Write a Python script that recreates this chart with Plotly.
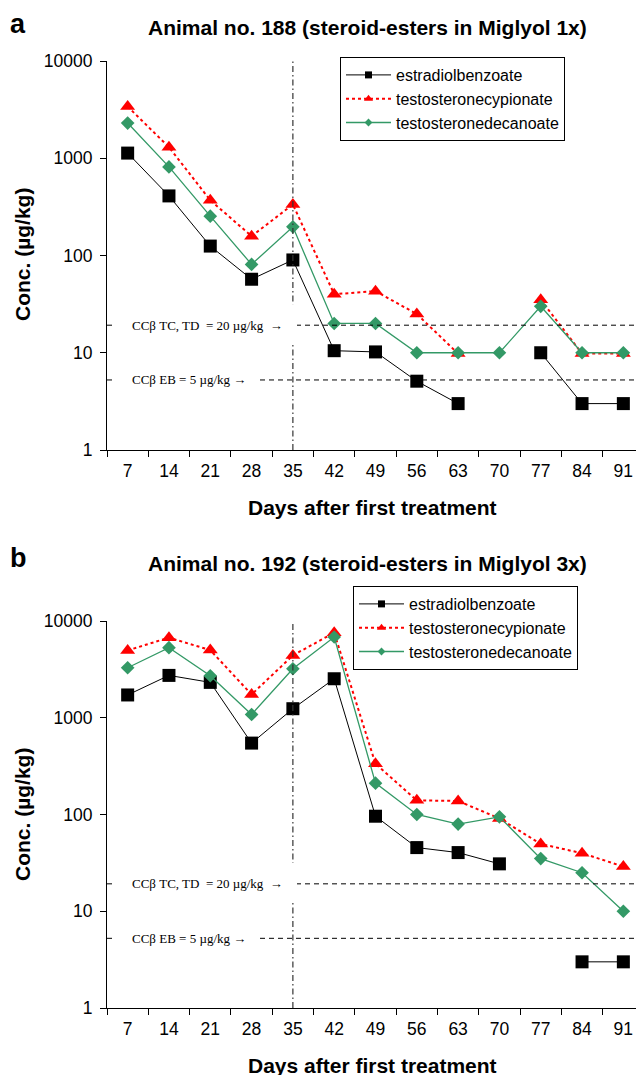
import math
import plotly.graph_objects as go

# ---------------- data ----------------
days = ["7", "14", "21", "28", "35", "42", "49", "56", "63", "70", "77", "84", "91"]
series_names = ["estradiolbenzoate", "testosteronecypionate", "testosteronedecanoate"]

a_eb = [1130, 410, 125, 57, 90, 10.5, 10.2, 5.1, 3, None, 10, 3, 3]
a_tc = [3400, 1300, 370, 158, 335, 40, 43, 25, 9.8, None, 35, 9.8, 9.8]
a_td = [2300, 815, 254, 81, 197, 20, 20, 10, 10, 10, 30, 10, 10]

b_eb = [1720, 2740, 2320, 547, 1240, 2530, 96, 45.5, 40.4, 30.9, None, 3, 3]
b_tc = [4970, 6730, 5000, 1740, 4410, 7570, 334, 140, 138, 91, 49.6, 39.8, 29]
b_td = [3290, 5300, 2720, 1080, 3210, 6830, 211, 100, 79.6, 94.6, 35, 25, 10]

y_tickvals = [1, 10, 100, 1000, 10000]
y_ticktext = ["1", "10", "100", "1000", "10000"]

titles = ["Animal no. 188 (steroid-esters in Miglyol 1x)",
          "Animal no. 192 (steroid-esters in Miglyol 3x)"]
panel_letters = ["a", "b"]
x_title = "Days after first treatment"
y_title = "Conc. (µg/kg)"
tc_label = "CCβ TC, TD\u00a0 = 20 µg/kg\u00a0 →"
eb_label = "CCβ EB = 5 µg/kg →"
tc_line_value = 19.2
eb_line_value = 5.25
treatment_day = "35"

# ---------------- layout geometry ----------------
OFF = 8                      # default page margin of the html body
W, H = 644 - OFF, 1075 - OFF
L, R, T, B = 107 - OFF, 0, 61 - OFF, 67
PW = W - L - R
PH = H - T - B


def px(xp, yp):
    """reference-picture pixel -> paper fraction"""
    xf = xp - OFF
    yf = yp - OFF
    return (xf - L) / PW, (H - B - yf) / PH


dom_a = [px(0, 450)[1], 1.0]
dom_b = [0.0, px(0, 621)[1]]

SANS = "Liberation Sans, Arial, sans-serif"
SERIF = "Liberation Serif, Times New Roman, serif"

styles = [
    dict(color="black", dash="solid", width=1, symbol="square", size=13, lsize=7),
    dict(color="#FF0000", dash="dot", width=2, symbol="triangle-up", size=13, lsize=8),
    dict(color="#339966", dash="solid", width=1.3, symbol="diamond", size=10.5, lsize=6),
]

fig = go.Figure()

panels = [
    ("x", "y", [a_eb, a_tc, a_td], "legend"),
    ("x2", "y2", [b_eb, b_tc, b_td], "legend2"),
]

for xa, ya, data, lg in panels:
    for name, vals, st in zip(series_names, data, styles):
        fig.add_trace(go.Scatter(
            x=days, y=vals, xaxis=xa, yaxis=ya, mode="lines+markers",
            name=name, showlegend=False, connectgaps=False,
            line=dict(color=st["color"], dash=st["dash"], width=st["width"]),
            marker=dict(symbol=st["symbol"], size=st["size"], color=st["color"],
                        line=dict(width=0)),
        ))
    # legend-only entries with small markers
    for name, st in zip(series_names, styles):
        fig.add_trace(go.Scatter(
            x=[None], y=[None], xaxis=xa, yaxis=ya, mode="lines+markers",
            name=name, legend=lg, showlegend=True,
            line=dict(color=st["color"], dash=st["dash"], width=st["width"]),
            marker=dict(symbol=st["symbol"], size=st["lsize"], color=st["color"],
                        line=dict(width=0)),
        ))

axis_common_x = dict(
    type="category", range=[-0.5, 12.5], showline=True, linecolor="black", linewidth=1,
    ticks="outside", ticklen=6, tickcolor="black", tickwidth=1, tickson="boundaries",
    showgrid=False, zeroline=False, tickfont=dict(family=SANS, size=17.5, color="black"),
    ticklabelstandoff=5, fixedrange=True,
)
axis_common_y = dict(
    type="log", range=[0, 4], showline=True, linecolor="black", linewidth=1,
    ticks="outside", ticklen=6, tickcolor="black", tickwidth=1,
    tickvals=y_tickvals, ticktext=y_ticktext, showgrid=False, zeroline=False,
    tickfont=dict(family=SANS, size=17.5, color="black"), ticklabelstandoff=4,
    fixedrange=True,
)

shapes = []
annotations = []
for i, (xa, ya, _, lg) in enumerate(panels):
    xref_dom = xa + " domain"
    yref_dom = ya + " domain"
    # threshold lines
    for v in (tc_line_value, eb_line_value):
        shapes.append(dict(type="line", xref=xref_dom, yref=ya, x0=0, x1=1, y0=v, y1=v,
                           line=dict(color="black", width=1, dash="5px,4px"), layer="above"))
    # treatment marker line
    xi = days.index(treatment_day)
    shapes.append(dict(type="line", xref=xa, yref=yref_dom, x0=xi, x1=xi, y0=0, y1=1,
                       line=dict(color="#333333", width=1.2, dash="6px,3px,1.5px,3px"),
                       layer="above"))
    # white label boxes
    shapes.append(dict(type="rect", xref=xref_dom, yref=ya,
                       x0=px(116, 0)[0], x1=px(297, 0)[0],
                       y0=12.5, y1=31.5, fillcolor="white", line=dict(width=0),
                       layer="above"))
    shapes.append(dict(type="rect", xref=xref_dom, yref=ya,
                       x0=px(116, 0)[0], x1=px(258, 0)[0],
                       y0=4.8, y1=5.8, fillcolor="white", line=dict(width=0),
                       layer="above"))
    annotations.append(dict(xref=xref_dom, yref=ya, x=px(130, 0)[0], y=math.log10(tc_line_value),
                            text=tc_label, showarrow=False, xanchor="left", yanchor="middle",
                            font=dict(family=SERIF, size=13, color="black")))
    annotations.append(dict(xref=xref_dom, yref=ya, x=px(130, 0)[0], y=math.log10(eb_line_value),
                            text=eb_label, showarrow=False, xanchor="left", yanchor="middle",
                            font=dict(family=SERIF, size=13, color="black")))

# titles and labels (pixel positions in the reference picture)
title_y = [27, 563]
xtitle_y = [507, 1065]
ytitle_c = [255, 815]
letter_y = [24, 558]
for i in range(2):
    tx, ty = px(367, title_y[i])
    annotations.append(dict(xref="paper", yref="paper", x=tx, y=ty, text="<b>%s</b>" % titles[i],
                            showarrow=False, xanchor="center", yanchor="middle",
                            font=dict(family=SANS, size=21, color="black")))
    xx, xy = px(372, xtitle_y[i])
    annotations.append(dict(xref="paper", yref="paper", x=xx, y=xy, text="<b>%s</b>" % x_title,
                            showarrow=False, xanchor="center", yanchor="middle",
                            font=dict(family=SANS, size=21, color="black")))
    yx, yy = px(22, ytitle_c[i])
    annotations.append(dict(xref="paper", yref="paper", x=yx, y=yy, text="<b>%s</b>" % y_title,
                            showarrow=False, xanchor="center", yanchor="middle", textangle=-90,
                            font=dict(family=SANS, size=21, color="black")))
    lx, ly = px(18, letter_y[i])
    annotations.append(dict(xref="paper", yref="paper", x=lx, y=ly, text="<b>%s</b>" % panel_letters[i],
                            showarrow=False, xanchor="center", yanchor="middle",
                            font=dict(family=SANS, size=27, color="black")))

lga = px(340, 57)
lgb = px(353, 586)
legend_common = dict(
    bgcolor="white", bordercolor="black", borderwidth=1,
    font=dict(family=SANS, size=16, color="black"), itemwidth=45,
    xanchor="left", yanchor="top", tracegroupgap=0,
)

fig.update_layout(
    width=W, height=H, margin=dict(l=L, r=R, t=T, b=B),
    paper_bgcolor="white", plot_bgcolor="white",
    xaxis=dict(axis_common_x, domain=[0, 1], anchor="y"),
    yaxis=dict(axis_common_y, domain=dom_a, anchor="x"),
    xaxis2=dict(axis_common_x, domain=[0, 1], anchor="y2"),
    yaxis2=dict(axis_common_y, domain=dom_b, anchor="x2"),
    legend=dict(legend_common, x=lga[0], y=lga[1]),
    legend2=dict(legend_common, x=lgb[0], y=lgb[1]),
    shapes=shapes, annotations=annotations,
    font=dict(family=SANS),
)

fig.write_html("out.html")
